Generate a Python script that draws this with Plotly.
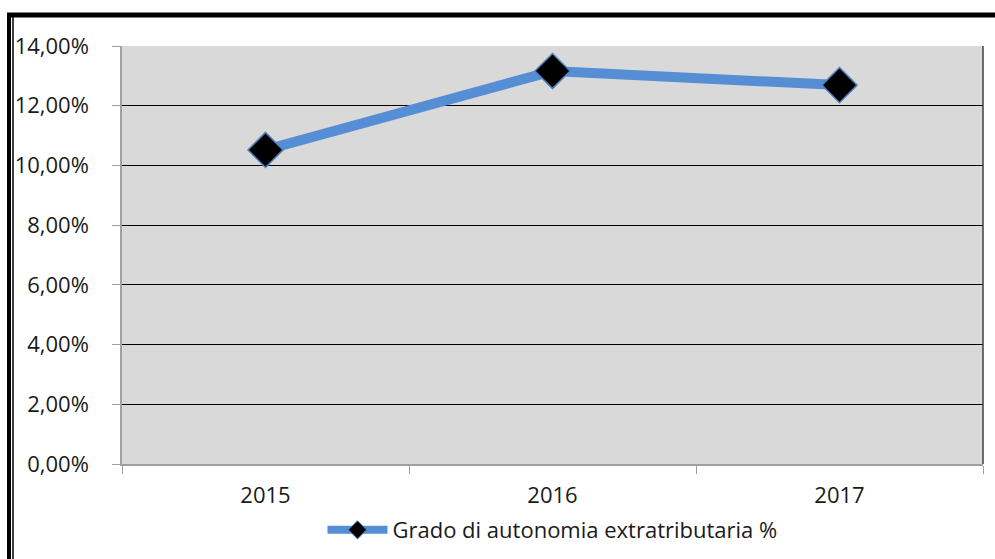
import plotly.graph_objects as go

years = ["2015", "2016", "2017"]
values = [10.52, 13.16, 12.69]
series_name = "Grado di autonomia extratributaria %"
y_ticks = [0, 2, 4, 6, 8, 10, 12, 14]
y_tick_labels = ["0,00%", "2,00%", "4,00%", "6,00%", "8,00%", "10,00%", "12,00%", "14,00%"]

font_family = "Open Sans, Lato, sans-serif"

fig = go.Figure()
fig.add_trace(go.Scatter(
    x=years, y=values, mode="lines+markers", name=series_name, showlegend=False,
    line=dict(color="#558ED5", width=10),
    marker=dict(symbol="diamond", size=27, color="black",
                line=dict(color="#4F81BD", width=1.5)),
))
# legend entry (smaller marker like the original legend key)
fig.add_trace(go.Scatter(
    x=[None], y=[None], mode="lines+markers", name=series_name, showlegend=True,
    line=dict(color="#558ED5", width=8),
    marker=dict(symbol="diamond", size=14, color="black",
                line=dict(color="#4F81BD", width=1)),
))

fig.update_layout(
    width=995, height=559,
    margin=dict(l=122, r=12, t=46, b=95, autoexpand=False),
    paper_bgcolor="white", plot_bgcolor="#D9D9D9",
    font=dict(family=font_family, size=22, color="#1a1a1a"),
    showlegend=True,
    legend=dict(orientation="h", x=0.5, xanchor="center", y=-0.158, yanchor="middle",
                font=dict(size=22), bgcolor="rgba(0,0,0,0)", itemwidth=60),
    xaxis=dict(type="category", range=[-0.5, 2.5], showgrid=False, ticks="outside", ticklen=8,
               tickson="boundaries", tickcolor="#A0A0A0", showline=True,
               linecolor="#A0A0A0", linewidth=1.5, zeroline=False,
               ticklabelstandoff=11),
    yaxis=dict(range=[0, 14], tickvals=y_ticks, ticktext=y_tick_labels,
               showgrid=True, gridcolor="#000000", gridwidth=1,
               ticks="outside", ticklen=8, tickcolor="#A0A0A0",
               showline=True, linecolor="#A0A0A0", linewidth=1.5,
               zeroline=False, ticklabelstandoff=19),
)

# right border of plot area
fig.add_shape(type="line", xref="paper", yref="paper", x0=1, x1=1, y0=0, y1=1,
              line=dict(color="#404040", width=1.5))
# outer frame: thick top and double left border
fig.add_shape(type="line", xref="paper", yref="paper",
              x0=-115/861, x1=1 + 12/861, y0=1 + 31/418, y1=1 + 31/418,
              line=dict(color="black", width=5))
fig.add_shape(type="line", xref="paper", yref="paper",
              x0=-113/861, x1=-113/861, y0=1 + 33/418, y1=-95/418,
              line=dict(color="black", width=4))
fig.add_shape(type="line", xref="paper", yref="paper",
              x0=-109/861, x1=-109/861, y0=1 + 31/418, y1=-95/418,
              line=dict(color="black", width=1.5))

fig.write_html("out.html", config={"displayModeBar": False},
               post_script="document.body.style.margin='0px';")
